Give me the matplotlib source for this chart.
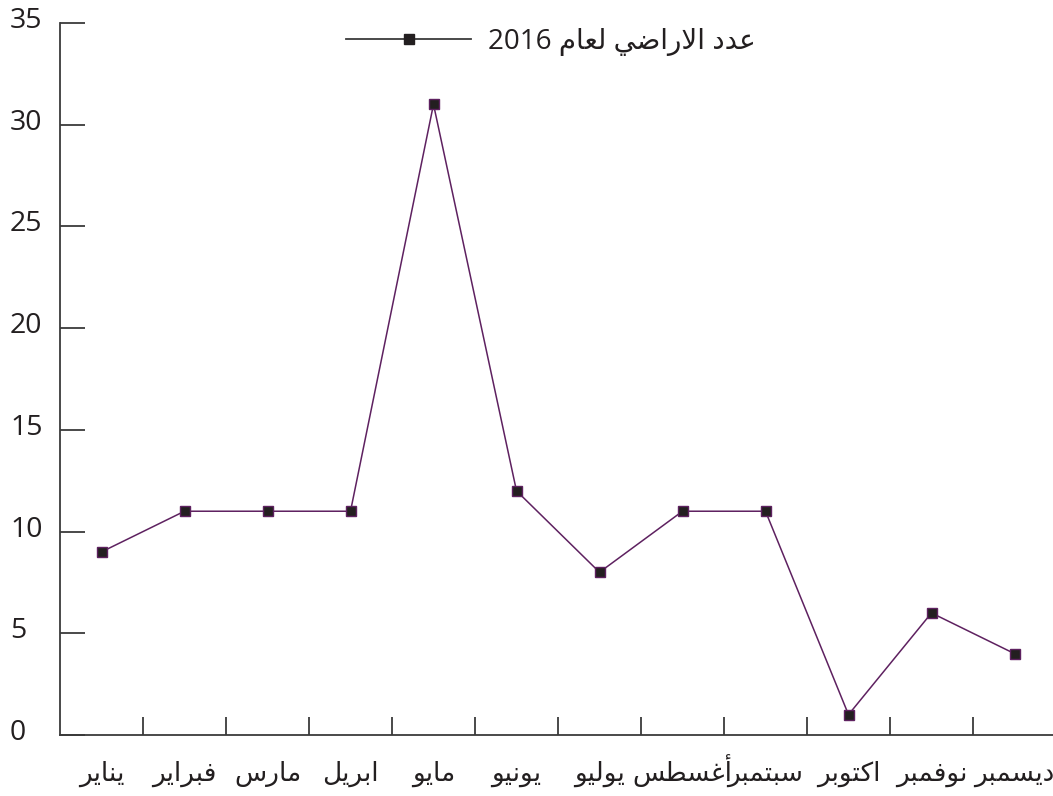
import matplotlib
matplotlib.use("Agg")
import matplotlib.pyplot as plt
import matplotlib.transforms as mtransforms
from matplotlib.lines import Line2D

plt.rcParams['font.family'] = ['Open Sans', 'DejaVu Sans']

months = ["يناير", "فبراير", "مارس", "ابريل", "مايو", "يونيو",
          "يوليو", "أغسطس", "سبتمبر", "اكتوبر", "نوفمبر", "ديسمبر"]
land_counts = [9, 11, 11, 11, 31, 12, 8, 11, 11, 1, 6, 4]
series_label = "عدد الاراضي لعام 2016"
y_ticks = [0, 5, 10, 15, 20, 25, 30, 35]

# matplotlib has no arabic shaping, so map letters to presentation forms
# (isolated, final, initial, medial); None = letter does not join forward
FORMS = {
    'ا': (0xFE8D, 0xFE8E, None, None),
    'أ': (0xFE83, 0xFE84, None, None),
    'ب': (0xFE8F, 0xFE90, 0xFE91, 0xFE92),
    'ت': (0xFE95, 0xFE96, 0xFE97, 0xFE98),
    'د': (0xFEA9, 0xFEAA, None, None),
    'ر': (0xFEAD, 0xFEAE, None, None),
    'س': (0xFEB1, 0xFEB2, 0xFEB3, 0xFEB4),
    'ض': (0xFEBD, 0xFEBE, 0xFEBF, 0xFEC0),
    'ط': (0xFEC1, 0xFEC2, 0xFEC3, 0xFEC4),
    'ع': (0xFEC9, 0xFECA, 0xFECB, 0xFECC),
    'غ': (0xFECD, 0xFECE, 0xFECF, 0xFED0),
    'ف': (0xFED1, 0xFED2, 0xFED3, 0xFED4),
    'ك': (0xFED9, 0xFEDA, 0xFEDB, 0xFEDC),
    'ل': (0xFEDD, 0xFEDE, 0xFEDF, 0xFEE0),
    'م': (0xFEE1, 0xFEE2, 0xFEE3, 0xFEE4),
    'ن': (0xFEE5, 0xFEE6, 0xFEE7, 0xFEE8),
    'و': (0xFEED, 0xFEEE, None, None),
    'ي': (0xFEF1, 0xFEF2, 0xFEF3, 0xFEF4),
}
LAM_ALEF = {'ا': (0xFEFB, 0xFEFC), 'أ': (0xFEF7, 0xFEF8)}


def shape_word(word):
    tokens = []
    i = 0
    while i < len(word):
        c = word[i]
        if c == 'ل' and i + 1 < len(word) and word[i + 1] in LAM_ALEF:
            tokens.append(('LA', word[i + 1]))
            i += 2
        else:
            tokens.append(c)
            i += 1
    if not any(isinstance(t, tuple) or t in FORMS for t in tokens):
        return word
    out = []
    for k, t in enumerate(tokens):
        prev = tokens[k - 1] if k > 0 else None
        nxt = tokens[k + 1] if k + 1 < len(tokens) else None
        joins_prev = (isinstance(prev, str) and prev in FORMS
                      and FORMS[prev][2] is not None)
        if isinstance(t, tuple):
            out.append(chr(LAM_ALEF[t[1]][1 if joins_prev else 0]))
        elif t in FORMS:
            f = FORMS[t]
            joins_next = f[2] is not None and nxt is not None and \
                (isinstance(nxt, tuple) or nxt in FORMS)
            if joins_prev and joins_next:
                out.append(chr(f[3]))
            elif joins_prev:
                out.append(chr(f[1]))
            elif joins_next:
                out.append(chr(f[2]))
            else:
                out.append(chr(f[0]))
        else:
            out.append(t)
    return ''.join(reversed(out))


def rtl(text):
    return ' '.join(shape_word(w) for w in reversed(text.split(' ')))


line_color = '#5e2160'
text_color = '#231f20'
axis_color = '#3a3a3a'

fig = plt.figure(figsize=(10.53, 7.96), dpi=100)
ax = fig.add_axes([60 / 1053, 61 / 796, 996 / 1053, 712 / 796])

x = list(range(len(months)))
ax.plot(x, land_counts, color=line_color, lw=1.1, marker='s', ms=7.5,
        mfc=text_color, mec=line_color, mew=1.0)

ax.set_xlim(-0.5, len(months) - 0.5)
ax.set_ylim(0, 35)
ax.set_yticks(y_ticks)
ax.set_xticks(x)
ax.set_xticklabels([rtl(m) for m in months])
ax.set_xticks([i + 0.5 for i in range(len(months) - 1)], minor=True)

for s in ['top', 'right']:
    ax.spines[s].set_visible(False)
for s in ['left', 'bottom']:
    ax.spines[s].set_color(axis_color)
    ax.spines[s].set_linewidth(1.3)

# y labels sit flush left at the figure edge, a little above their tick
ax.tick_params(axis='y', direction='in', length=18, width=1.3, color=axis_color,
               labelsize=20.5, labelcolor=text_color, pad=36)
ax.tick_params(axis='x', which='major', length=0, labelsize=19,
               labelcolor=text_color, pad=33)
ax.tick_params(axis='x', which='minor', direction='in', length=13, width=1.3,
               color=axis_color)
for lab in ax.get_xticklabels():
    lab.set_verticalalignment('baseline')

offset = mtransforms.ScaledTranslation(0, 4 / 72, fig.dpi_scale_trans)
for lab in ax.get_yticklabels():
    lab.set_horizontalalignment('left')
    lab.set_transform(lab.get_transform() + offset)

handle = Line2D([], [], color=axis_color, lw=1.3, marker='s', ms=7,
                mfc=text_color, mec=text_color)
fig.legend([handle], [rtl(series_label)], loc='center left',
           bbox_to_anchor=(346 / 1053, 1 - 42 / 796), frameon=False,
           fontsize=20, handlelength=4.5, handletextpad=0.6, borderpad=0,
           borderaxespad=0, labelcolor=text_color)

fig.savefig('out.png', dpi=100)
